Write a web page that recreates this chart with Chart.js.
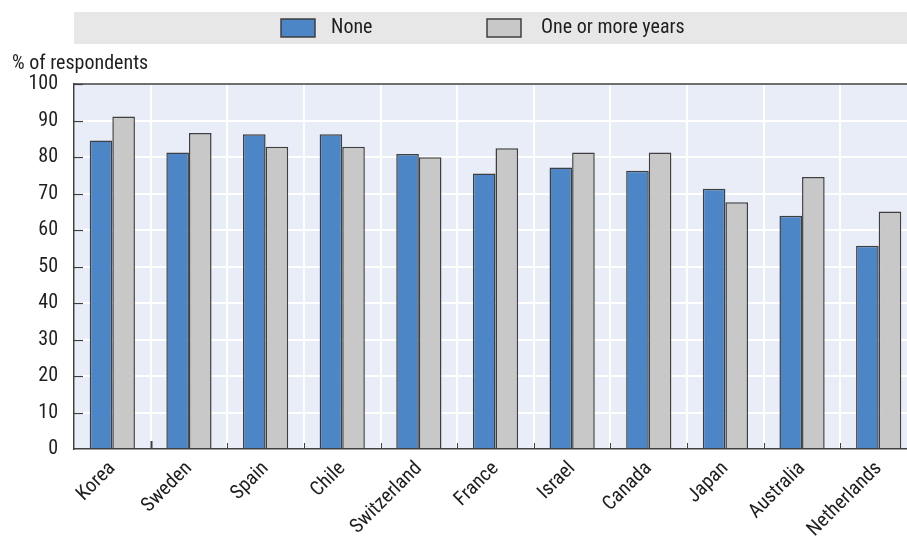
<!DOCTYPE html>
<html>
<head>
<meta charset="utf-8">
<script src="https://cdn.jsdelivr.net/npm/chart.js@4"></script>
<style>
  html, body { margin: 0; padding: 0; background: #ffffff; overflow: hidden; width: 907px; height: 540px; }
  canvas { display: block; }
</style>
</head>
<body>
<canvas id="c" width="920" height="540"></canvas>
<script>
const categories = ["Korea", "Sweden", "Spain", "Chile", "Switzerland", "France", "Israel", "Canada", "Japan", "Australia", "Netherlands"];
const noneValues = [84.5, 81.2, 86.2, 86.2, 80.8, 75.5, 77.1, 76.2, 71.3, 63.9, 55.7];
const oneOrMoreValues = [91.1, 86.6, 82.8, 82.8, 79.9, 82.4, 81.2, 81.2, 67.6, 74.5, 65.1];
const seriesNames = ["None", "One or more years"];
const yTicks = [0, 10, 20, 30, 40, 50, 60, 70, 80, 90, 100];
const yTitle = "% of respondents";

const FONT = "'Liberation Sans Narrow', 'Roboto Condensed', 'DejaVu Sans Condensed', 'Liberation Sans', sans-serif";
const TEXT = "#1e1e1e";
const EDGE = "#3f3f3f";

const decor = {
  id: 'decor',
  beforeDraw(chart) {
    const { ctx, chartArea: a } = chart;
    ctx.save();
    ctx.fillStyle = '#e7e7e7';
    ctx.fillRect(a.left, 12, chart.width - a.left, 32);
    ctx.fillStyle = '#e9edf7';
    ctx.fillRect(a.left, a.top, a.right - a.left, a.bottom - a.top);
    ctx.restore();
  },
  afterDraw(chart) {
    const { ctx, chartArea: a } = chart;
    const y = chart.scales.y;
    ctx.save();
    ctx.strokeStyle = EDGE;
    ctx.lineWidth = 1.5;
    ctx.beginPath();
    ctx.moveTo(a.left, a.top);
    ctx.lineTo(a.right, a.top);
    ctx.stroke();
    ctx.lineWidth = 1.2;
    yTicks.forEach(v => {
      if (v === 0) return;
      const py = Math.round(y.getPixelForValue(v)) + 0.5;
      ctx.beginPath();
      ctx.moveTo(a.left, py);
      ctx.lineTo(a.left + 9, py);
      ctx.stroke();
    });
    const w = (a.right - a.left) / categories.length;
    for (let i = 1; i < categories.length; i++) {
      const px = Math.round(a.left + i * w) + 0.5;
      ctx.lineWidth = i === 1 ? 2 : 1;
      ctx.beginPath();
      ctx.moveTo(px, a.bottom);
      ctx.lineTo(px, a.bottom - (i === 1 ? 8 : 6));
      ctx.stroke();
    }
    ctx.fillStyle = TEXT;
    ctx.font = "20px " + FONT;
    ctx.textAlign = 'left';
    ctx.textBaseline = 'alphabetic';
    ctx.fillText(yTitle, 12, 69);
    const items = chart.data.datasets.map(d => ({ label: d.label, color: d.backgroundColor }));
    const boxX = [281, 487];
    const textX = [331, 541];
    items.forEach((it, i) => {
      ctx.fillStyle = it.color;
      ctx.fillRect(boxX[i], 19, 34, 18);
      ctx.strokeStyle = EDGE;
      ctx.lineWidth = 1.5;
      ctx.strokeRect(boxX[i], 19, 34, 18);
      ctx.fillStyle = TEXT;
      ctx.textBaseline = 'middle';
      ctx.fillText(it.label, textX[i], 28);
    });
    ctx.restore();
  }
};

new Chart(document.getElementById('c'), {
  type: 'bar',
  data: {
    labels: categories,
    datasets: [
      { label: seriesNames[0], data: noneValues, backgroundColor: '#4d86c6', borderColor: EDGE, borderWidth: 1.5,
        categoryPercentage: 0.59, barPercentage: 1.0 },
      { label: seriesNames[1], data: oneOrMoreValues, backgroundColor: '#c8c8c8', borderColor: EDGE, borderWidth: 1.5,
        categoryPercentage: 0.59, barPercentage: 1.0 }
    ]
  },
  options: {
    responsive: false,
    animation: false,
    layout: { padding: { top: 84, right: 3, left: 0, bottom: 0 } },
    plugins: { legend: { display: false }, tooltip: { enabled: false }, title: { display: false } },
    scales: {
      x: {
        afterFit(s) { s.height = 91; },
        grid: { color: '#ffffff', lineWidth: 2, drawTicks: false, offset: true },
        border: { color: EDGE, width: 1.5 },
        ticks: { color: TEXT, font: { family: FONT, size: 20 }, minRotation: 45, maxRotation: 45, padding: 8, autoSkip: false }
      },
      y: {
        min: 0, max: 100,
        afterFit(s) { s.width = 74; },
        afterBuildTicks(s) { s.ticks = yTicks.map(v => ({ value: v })); },
        grid: { color: '#ffffff', lineWidth: 2, drawTicks: false },
        border: { color: EDGE, width: 1.5 },
        ticks: { color: TEXT, font: { family: FONT, size: 20 }, padding: 16 }
      }
    }
  },
  plugins: [decor]
});
</script>
</body>
</html>
